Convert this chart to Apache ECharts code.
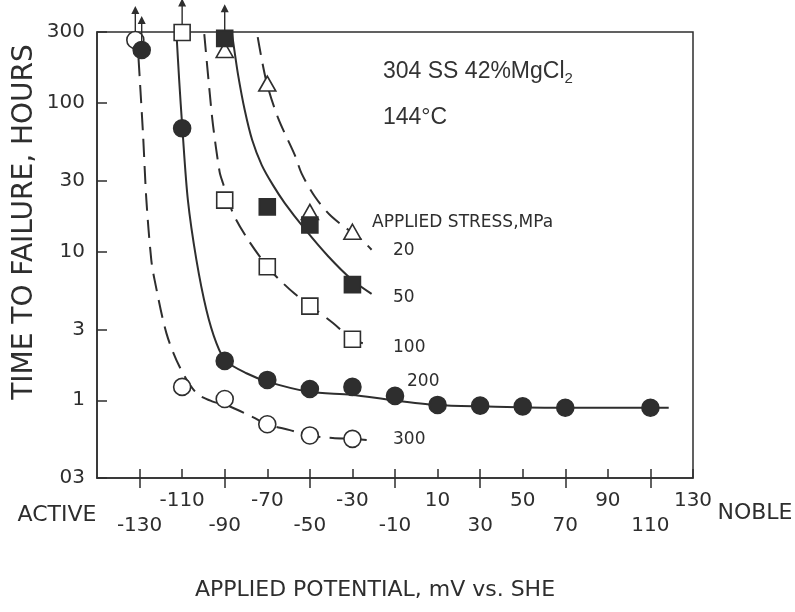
<!DOCTYPE html>
<html>
<head>
<meta charset="utf-8">
<title>Time to failure vs applied potential</title>
<script src="https://cdn.jsdelivr.net/npm/echarts@6.0.0/dist/echarts.min.js"></script>
<style>
  html, body { margin: 0; padding: 0; background: #fff; }
  #chart { width: 795px; height: 612px; }
</style>
</head>
<body>
<div id="chart"></div>
<script>
// tick labels (the x labels sit on two staggered rows)
var xUpper = [-110, -70, -30, 10, 50, 90, 130];
var xLower = [-130, -90, -50, -10, 30, 70, 110];
var yTicks = [0.3, 1, 3, 10, 30, 100, 300];
var yTickLabels = ['03', '1', '3', '10', '30', '100', '300'];

// measured points, [potential mV, hours]
var pts20 = [[-90, 227], [-70, 135], [-50, 18.5], [-30, 13.6]];
var pts50 = [[-90, 272], [-70, 20], [-50, 15.1], [-30, 6.0]];
var pts100 = [[-110, 298], [-90, 22.2], [-70, 7.9], [-50, 4.3], [-30, 2.57]];
var pts200 = [[-129, 227], [-110, 67.5], [-90, 1.84], [-70, 1.37], [-50, 1.19], [-30, 1.23],
              [-10, 1.07], [10, 0.93], [30, 0.92], [50, 0.91], [70, 0.89], [110, 0.89]];
var pts300 = [[-132, 265], [-110, 1.23], [-90, 1.02], [-70, 0.69], [-50, 0.58], [-30, 0.55]];

// specimens that had not failed (arrow up), index into the arrays above
var runouts20 = [];
var runouts50 = [0];
var runouts100 = [0];
var runouts200 = [0];
var runouts300 = [0];

// fitted curves drawn through the data
var curve20 = [[-74.5, 277], [-70.4, 139], [-64.9, 79], [-57.1, 44.7], [-53.9, 33.6], [-47.6, 23.4],
               [-39.8, 17.2], [-25.7, 12.0], [-21, 10.3]];
var curve50 = [[-86.7, 300], [-85.8, 245], [-83.7, 154], [-80.6, 89.6], [-77.1, 56.3], [-72.6, 38.2],
               [-67.4, 28.1], [-61.8, 21.2], [-52.4, 14.2], [-41.4, 9.3], [-30.4, 6.5], [-21, 5.2]];
var curve100 = [[-99.6, 290], [-97.1, 119], [-95.5, 71], [-92.4, 34.4], [-90.8, 28.8], [-86.1, 18.1],
                [-79.0, 12.0], [-69.9, 7.9], [-64.9, 6.6], [-57.1, 5.2], [-50, 4.35], [-39, 3.3],
                [-30, 2.57], [-21.8, 2.35]];
var curve200 = [[-112.7, 300], [-111.4, 143], [-109.9, 67.8], [-107.3, 22.2], [-103.3, 8.8], [-98.6, 4.05],
                [-93.9, 2.42], [-89.5, 1.84], [-79.8, 1.52], [-69.6, 1.33], [-50.3, 1.14], [-30.4, 1.09],
                [-11.1, 1.0], [9.6, 0.93], [30.8, 0.91], [69.2, 0.89], [118.6, 0.89]];
var curve300 = [[-130.5, 200], [-128.4, 62.5], [-126.8, 22.2], [-124.5, 8.8], [-122.9, 6.4], [-117.4, 2.83],
                [-111.2, 1.68], [-103.3, 1.12], [-95.6, 0.98], [-90, 0.94], [-76.8, 0.77], [-70.4, 0.69],
                [-59.4, 0.63], [-50.5, 0.58], [-39.2, 0.557], [-30.4, 0.55], [-23.3, 0.54]];

var ink = '#2e2e2e';
var font = "'DejaVu Sans', sans-serif";
var arrow = 'path://M4,0 L8,8 L4.7,8 L4.7,26 L3.3,26 L3.3,8 L0,8 Z';

function curve(data, dashed) {
    return {
        type: 'line',
        data: data,
        showSymbol: false,
        smooth: 0.3,
        silent: true,
        z: 2,
        lineStyle: { color: ink, width: 2, type: dashed ? [18, 9] : 'solid' }
    };
}

function points(name, data, symbol, size, filled, runouts) {
    return {
        name: name,
        type: 'scatter',
        data: data,
        symbol: symbol,
        symbolSize: size,
        clip: false,
        z: 3,
        itemStyle: { color: filled ? ink : '#fff', borderColor: ink, borderWidth: 1.6, opacity: 1 },
        markPoint: {
            symbol: arrow,
            symbolSize: [8, 26],
            symbolOffset: [0, -21],
            label: { show: false },
            itemStyle: { color: ink },
            data: runouts.map(function (i) { return { coord: data[i] }; })
        }
    };
}

var chart = echarts.init(document.getElementById('chart'));
var option = {
    animation: false,
    backgroundColor: '#fff',
    grid: { left: 97, right: 102, top: 32, bottom: 134, show: true, borderColor: ink, borderWidth: 1.5 },
    xAxis: [{
        type: 'value', min: -150, max: 130,
        axisLine: { show: true, onZero: false, lineStyle: { color: ink, width: 1.5 } },
        axisTick: { inside: true, length: 9, customValues: xUpper.concat(xLower), lineStyle: { color: ink, width: 1.5 } },
        axisLabel: { customValues: xUpper, margin: 13, fontSize: 20, color: ink, fontFamily: font },
        splitLine: { show: false }
    }, {
        type: 'value', min: -150, max: 130, position: 'bottom',
        axisLine: { show: false, onZero: false },
        axisTick: { inside: false, length: 10, customValues: xLower, lineStyle: { color: ink, width: 1.5 } },
        axisLabel: { customValues: xLower, margin: 38, fontSize: 20, color: ink, fontFamily: font },
        splitLine: { show: false }
    }],
    yAxis: {
        type: 'log', logBase: 10, min: 0.3, max: 300,
        axisLine: { show: true, onZero: false, lineStyle: { color: ink, width: 1.5 } },
        axisTick: { inside: true, length: 10, customValues: yTicks, lineStyle: { color: ink, width: 1.5 } },
        axisLabel: {
            customValues: yTicks, margin: 12, fontSize: 20, color: ink, fontFamily: font,
            formatter: function (v) {
                for (var i = 0; i < yTicks.length; i++) {
                    if (Math.abs(Math.log10(yTicks[i]) - Math.log10(v)) < 0.01) return yTickLabels[i];
                }
                return '';
            }
        },
        splitLine: { show: false }
    },
    series: [
        curve(curve300, true),
        curve(curve200, false),
        curve(curve100, true),
        curve(curve50, false),
        curve(curve20, true),
        points('300', pts300, 'circle', 17, false, runouts300),
        points('200', pts200, 'circle', 17, true, runouts200),
        points('100', pts100, 'rect', 16, false, runouts100),
        points('20', pts20, 'triangle', [17, 15], false, runouts20),
        points('50', pts50, 'rect', 16, true, runouts50)
    ],
    graphic: [
        { type: 'text', x: 25, y: 222, rotation: Math.PI / 2,
          style: { text: 'TIME TO FAILURE, HOURS', font: '28px ' + font, fill: ink, align: 'center', verticalAlign: 'middle' } },
        { type: 'text', x: 375, y: 590,
          style: { text: 'APPLIED POTENTIAL, mV vs. SHE', font: '22px ' + font, fill: ink, align: 'center', verticalAlign: 'middle' } },
        { type: 'text', x: 57, y: 515,
          style: { text: 'ACTIVE', font: '22px ' + font, fill: ink, align: 'center', verticalAlign: 'middle' } },
        { type: 'text', x: 755, y: 513,
          style: { text: 'NOBLE', font: '22px ' + font, fill: ink, align: 'center', verticalAlign: 'middle' } },
        { type: 'text', x: 383, y: 72,
          style: {
              text: '{a|304 SS 42%MgCl}{b|2}', fill: '#333', align: 'left', verticalAlign: 'middle',
              rich: {
                  a: { font: "23px 'Liberation Sans', Arial, sans-serif", fill: '#333', lineHeight: 28 },
                  b: { font: "15px 'Liberation Sans', Arial, sans-serif", fill: '#333', lineHeight: 15, verticalAlign: 'bottom' }
              }
          } },
        { type: 'text', x: 383, y: 118,
          style: { text: '144°C', font: "23px 'Liberation Sans', Arial, sans-serif", fill: '#333', align: 'left', verticalAlign: 'middle' } },
        { type: 'text', x: 372, y: 223,
          style: { text: 'APPLIED STRESS,MPa', font: '17px ' + font, fill: ink, align: 'left', verticalAlign: 'middle' } },
        { type: 'text', x: 393, y: 251, style: { text: '20', font: '17px ' + font, fill: ink, verticalAlign: 'middle' } },
        { type: 'text', x: 393, y: 298, style: { text: '50', font: '17px ' + font, fill: ink, verticalAlign: 'middle' } },
        { type: 'text', x: 393, y: 348, style: { text: '100', font: '17px ' + font, fill: ink, verticalAlign: 'middle' } },
        { type: 'text', x: 407, y: 382, style: { text: '200', font: '17px ' + font, fill: ink, verticalAlign: 'middle' } },
        { type: 'text', x: 393, y: 440, style: { text: '300', font: '17px ' + font, fill: ink, verticalAlign: 'middle' } }
    ]
};
chart.setOption(option);
</script>
</body>
</html>
